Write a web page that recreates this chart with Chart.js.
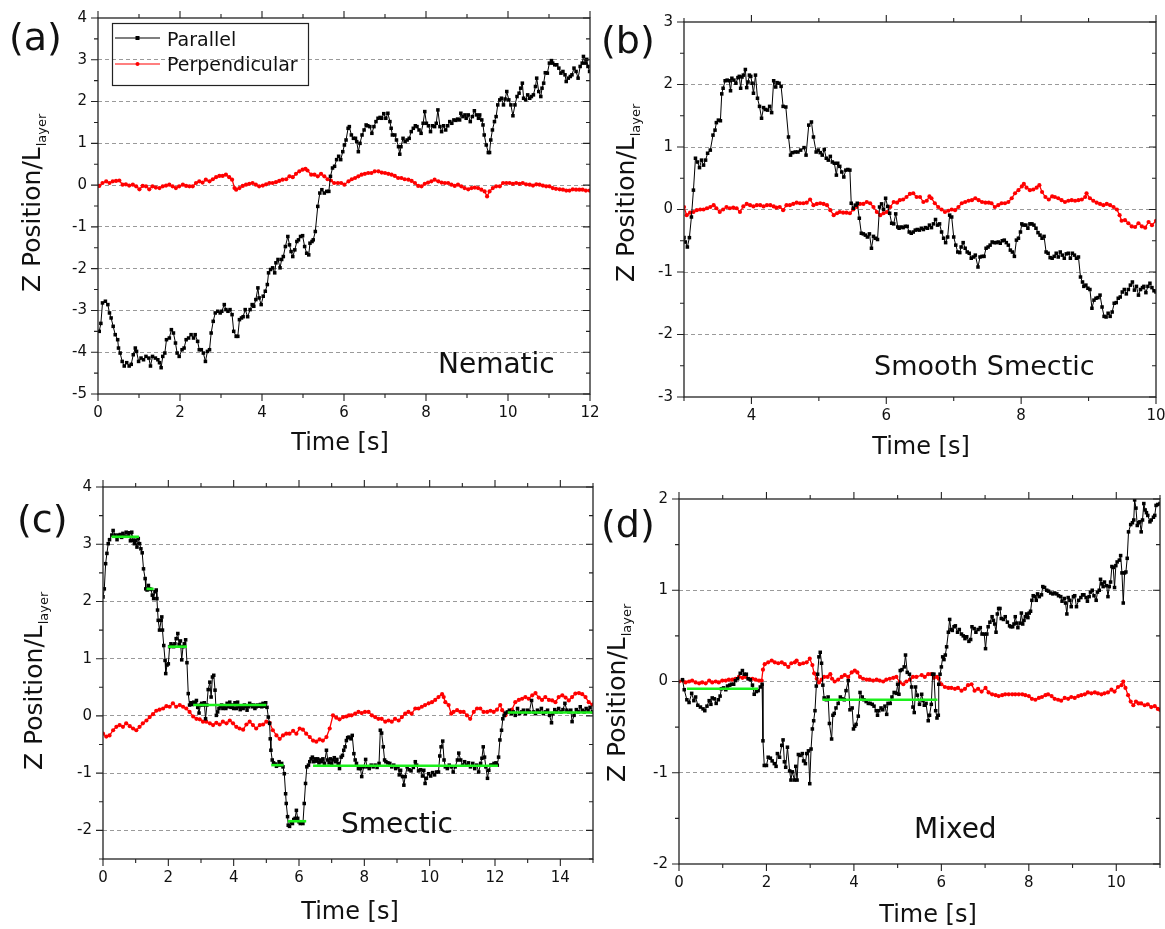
<!DOCTYPE html>
<html>
<head>
<meta charset="utf-8">
<title>Z position traces</title>
<script src="https://cdn.jsdelivr.net/npm/chart.js@4.4.1/dist/chart.umd.min.js"></script>
<style>
  html, body { margin: 0; padding: 0; background: #fff; }
  #wrap { position: relative; width: 1165px; height: 929px; overflow: hidden; }
  #wrap canvas { position: absolute; left: 0; top: 0; }
</style>
</head>
<body>
<div id="wrap">
  <canvas id="chartA" width="1165" height="929"></canvas>
  <canvas id="chartB" width="1165" height="929"></canvas>
  <canvas id="chartC" width="1165" height="929"></canvas>
  <canvas id="chartD" width="1165" height="929"></canvas>
</div>
<script>
// Z position / L_layer vs time, four phases. Values are [time s, z].
const TIME_TITLE = 'Time [s]';
const Z_TITLE = 'Z Position/L';
const Z_TITLE_SUB = 'layer';
const SERIES_NAMES = ['Parallel', 'Perpendicular'];

// (a) Nematic
const parallelA = [[0.03,-3.50],[0.07,-3.31],[0.11,-2.82],[0.18,-2.78],[0.24,-2.86],[0.28,-3.06],[0.32,-3.18],[0.37,-3.38],[0.42,-3.58],[0.48,-3.70],[0.50,-3.90],[0.54,-4.02],[0.59,-4.22],[0.64,-4.33],[0.70,-4.25],[0.76,-4.33],[0.81,-4.29],[0.86,-4.06],[0.91,-3.90],[0.94,-3.98],[0.99,-4.22],[1.05,-4.14],[1.11,-4.18],[1.17,-4.10],[1.24,-4.14],[1.28,-4.33],[1.33,-4.10],[1.40,-4.14],[1.46,-4.18],[1.50,-4.25],[1.54,-4.37],[1.58,-4.10],[1.63,-4.02],[1.67,-3.70],[1.74,-3.66],[1.79,-3.46],[1.84,-3.54],[1.89,-3.78],[1.93,-4.02],[1.98,-4.10],[2.05,-3.94],[2.10,-3.90],[2.15,-3.70],[2.21,-3.66],[2.27,-3.58],[2.33,-3.66],[2.37,-3.58],[2.43,-3.74],[2.47,-3.94],[2.52,-3.94],[2.57,-4.02],[2.62,-4.22],[2.67,-3.98],[2.72,-3.94],[2.76,-3.54],[2.81,-3.26],[2.86,-3.06],[2.92,-3.02],[2.98,-3.06],[3.02,-3.02],[3.08,-2.86],[3.12,-2.98],[3.17,-3.02],[3.22,-2.98],[3.27,-3.10],[3.31,-3.50],[3.37,-3.62],[3.41,-3.62],[3.45,-3.22],[3.50,-3.18],[3.54,-3.15],[3.59,-2.98],[3.65,-3.15],[3.71,-2.98],[3.76,-2.86],[3.80,-2.90],[3.85,-2.74],[3.90,-2.46],[3.93,-2.70],[3.98,-2.86],[4.03,-2.66],[4.08,-2.54],[4.13,-2.38],[4.16,-2.10],[4.21,-2.02],[4.26,-1.98],[4.31,-2.10],[4.34,-1.86],[4.39,-1.78],[4.44,-1.98],[4.48,-1.78],[4.52,-1.71],[4.57,-1.47],[4.63,-1.23],[4.67,-1.43],[4.71,-1.59],[4.75,-1.71],[4.80,-1.55],[4.85,-1.35],[4.89,-1.31],[4.94,-1.23],[4.99,-1.21],[5.04,-1.47],[5.09,-1.63],[5.14,-1.67],[5.17,-1.39],[5.22,-1.35],[5.25,-1.31],[5.30,-1.11],[5.36,-0.51],[5.41,-0.19],[5.46,-0.11],[5.52,-0.19],[5.58,-0.15],[5.63,-0.15],[5.67,0.21],[5.72,0.41],[5.77,0.45],[5.82,0.61],[5.87,0.69],[5.92,0.61],[5.97,0.80],[6.01,0.96],[6.05,1.08],[6.10,1.36],[6.13,1.40],[6.18,1.20],[6.23,1.12],[6.28,1.12],[6.31,1.04],[6.35,0.80],[6.39,1.00],[6.44,1.20],[6.49,1.32],[6.54,1.44],[6.58,1.42],[6.63,1.40],[6.68,1.24],[6.73,1.40],[6.78,1.52],[6.83,1.60],[6.88,1.62],[6.92,1.60],[6.97,1.71],[7.02,1.60],[7.07,1.72],[7.12,1.52],[7.15,1.36],[7.18,1.20],[7.24,1.20],[7.28,1.08],[7.33,0.92],[7.36,0.74],[7.39,0.92],[7.44,1.12],[7.49,1.04],[7.54,1.08],[7.59,1.12],[7.64,1.28],[7.69,1.36],[7.74,1.42],[7.78,1.40],[7.83,1.32],[7.88,1.24],[7.93,1.48],[7.97,1.76],[8.01,1.48],[8.06,1.42],[8.11,1.28],[8.16,1.42],[8.21,1.40],[8.25,1.48],[8.29,1.80],[8.34,1.40],[8.38,1.28],[8.43,1.42],[8.48,1.32],[8.53,1.42],[8.58,1.52],[8.63,1.48],[8.68,1.56],[8.73,1.55],[8.77,1.58],[8.82,1.56],[8.85,1.72],[8.90,1.64],[8.95,1.68],[8.98,1.60],[9.03,1.68],[9.08,1.52],[9.13,1.64],[9.18,1.78],[9.23,1.68],[9.28,1.60],[9.31,1.68],[9.36,1.56],[9.39,1.44],[9.42,1.20],[9.47,0.96],[9.52,0.78],[9.55,0.78],[9.58,1.08],[9.62,1.32],[9.67,1.52],[9.71,1.64],[9.75,1.92],[9.80,2.04],[9.84,2.08],[9.89,1.92],[9.93,2.06],[9.97,2.24],[10.02,2.04],[10.07,1.92],[10.12,1.66],[10.17,1.92],[10.22,2.12],[10.27,2.20],[10.31,2.32],[10.35,2.44],[10.38,2.08],[10.43,2.04],[10.48,2.16],[10.53,2.08],[10.57,2.12],[10.62,2.16],[10.67,2.36],[10.70,2.56],[10.75,2.24],[10.80,2.12],[10.83,2.32],[10.87,2.44],[10.91,2.69],[10.96,2.68],[11.01,2.92],[11.06,2.98],[11.09,2.92],[11.14,2.88],[11.19,2.88],[11.24,2.80],[11.29,2.68],[11.34,2.72],[11.39,2.64],[11.42,2.48],[11.47,2.56],[11.52,2.60],[11.56,2.64],[11.61,2.80],[11.66,2.72],[11.71,2.56],[11.76,2.84],[11.81,2.92],[11.84,3.08],[11.89,2.92],[11.92,3.01],[11.95,2.84],[11.99,2.72]];
const perpendicularA = [[0.03,-0.02],[0.11,0.05],[0.20,0.09],[0.28,0.05],[0.36,0.09],[0.44,0.10],[0.52,0.11],[0.60,0.01],[0.68,0.02],[0.76,-0.01],[0.85,0.01],[0.93,-0.03],[1.01,-0.10],[1.09,-0.02],[1.17,-0.03],[1.25,-0.10],[1.33,-0.03],[1.41,-0.06],[1.50,-0.07],[1.58,-0.03],[1.66,-0.01],[1.74,0.01],[1.82,-0.03],[1.90,-0.07],[1.98,-0.03],[2.07,0.01],[2.15,-0.02],[2.23,-0.03],[2.31,-0.03],[2.39,0.05],[2.47,0.09],[2.55,0.06],[2.63,0.13],[2.72,0.09],[2.80,0.14],[2.88,0.19],[2.96,0.22],[3.04,0.22],[3.12,0.25],[3.20,0.19],[3.27,0.13],[3.33,-0.07],[3.37,-0.11],[3.45,-0.07],[3.53,-0.02],[3.61,0.01],[3.69,0.03],[3.77,0.05],[3.85,0.01],[3.93,-0.03],[4.02,-0.01],[4.10,0.02],[4.18,0.05],[4.26,0.05],[4.34,0.07],[4.42,0.10],[4.50,0.13],[4.59,0.14],[4.67,0.21],[4.75,0.19],[4.83,0.27],[4.91,0.33],[4.99,0.37],[5.06,0.39],[5.11,0.35],[5.20,0.25],[5.28,0.25],[5.36,0.21],[5.44,0.27],[5.52,0.21],[5.60,0.14],[5.68,0.11],[5.76,0.05],[5.85,0.05],[5.93,0.05],[6.01,0.01],[6.11,0.09],[6.19,0.14],[6.27,0.17],[6.35,0.21],[6.43,0.25],[6.51,0.27],[6.59,0.29],[6.67,0.29],[6.75,0.33],[6.84,0.33],[6.92,0.30],[7.00,0.29],[7.08,0.27],[7.16,0.25],[7.24,0.22],[7.32,0.17],[7.40,0.17],[7.48,0.14],[7.57,0.13],[7.65,0.10],[7.73,0.05],[7.81,-0.02],[7.89,-0.03],[7.97,0.03],[8.05,0.06],[8.13,0.09],[8.21,0.13],[8.30,0.09],[8.38,0.06],[8.46,0.05],[8.54,0.05],[8.62,0.01],[8.70,-0.02],[8.78,0.01],[8.86,-0.03],[8.94,-0.07],[9.03,-0.10],[9.11,-0.07],[9.19,-0.06],[9.27,-0.07],[9.35,-0.11],[9.43,-0.15],[9.49,-0.27],[9.55,-0.15],[9.63,-0.07],[9.71,-0.03],[9.80,-0.03],[9.88,0.05],[9.96,0.05],[10.04,0.05],[10.12,0.03],[10.20,0.05],[10.28,0.03],[10.36,0.05],[10.44,0.02],[10.53,0.01],[10.61,-0.01],[10.69,0.02],[10.77,0.01],[10.85,-0.01],[10.93,-0.03],[11.01,-0.03],[11.09,-0.07],[11.17,-0.09],[11.26,-0.10],[11.34,-0.11],[11.42,-0.13],[11.50,-0.13],[11.58,-0.10],[11.66,-0.11],[11.74,-0.11],[11.82,-0.11],[11.90,-0.13],[11.99,-0.13]];

// (b) Smooth Smectic
const parallelB = [[3.00,-0.45],[3.02,-0.52],[3.05,-0.60],[3.08,-0.45],[3.11,-0.12],[3.14,0.31],[3.17,0.82],[3.20,0.76],[3.23,0.67],[3.26,0.79],[3.29,0.71],[3.32,0.79],[3.35,0.90],[3.39,0.95],[3.43,1.19],[3.46,1.27],[3.48,1.39],[3.51,1.43],[3.54,1.42],[3.56,1.85],[3.58,1.94],[3.61,2.06],[3.64,2.07],[3.67,2.06],[3.69,1.90],[3.71,2.10],[3.74,2.07],[3.77,2.02],[3.80,2.11],[3.82,2.13],[3.84,1.94],[3.86,2.12],[3.88,2.15],[3.91,2.24],[3.93,1.95],[3.95,2.04],[3.97,2.15],[3.99,2.13],[4.01,2.02],[4.03,1.86],[4.06,2.15],[4.09,1.78],[4.12,1.65],[4.15,1.46],[4.18,1.63],[4.21,1.60],[4.24,1.59],[4.27,1.65],[4.30,1.55],[4.33,2.06],[4.36,1.96],[4.38,2.03],[4.41,2.02],[4.44,1.97],[4.47,1.65],[4.51,1.64],[4.55,1.16],[4.58,0.87],[4.61,0.91],[4.65,0.92],[4.69,0.92],[4.73,0.95],[4.78,0.99],[4.81,0.87],[4.85,1.35],[4.89,1.40],[4.92,1.16],[4.96,0.92],[4.99,0.95],[5.02,0.91],[5.05,0.87],[5.08,0.96],[5.11,0.82],[5.14,0.79],[5.17,0.85],[5.20,0.76],[5.23,0.74],[5.26,0.55],[5.28,0.74],[5.31,0.69],[5.34,0.60],[5.37,0.52],[5.40,0.63],[5.43,0.64],[5.46,0.63],[5.48,0.10],[5.51,0.02],[5.54,0.07],[5.57,0.10],[5.60,-0.14],[5.63,-0.38],[5.66,-0.39],[5.69,-0.41],[5.72,-0.44],[5.75,-0.39],[5.78,-0.62],[5.81,-0.43],[5.84,-0.46],[5.87,-0.48],[5.90,0.04],[5.93,0.09],[5.96,0.00],[5.99,0.18],[6.02,0.05],[6.05,-0.06],[6.08,-0.22],[6.11,-0.23],[6.14,-0.07],[6.17,-0.28],[6.19,-0.30],[6.22,-0.28],[6.25,-0.29],[6.28,-0.27],[6.31,-0.27],[6.34,-0.36],[6.37,-0.38],[6.40,-0.36],[6.43,-0.33],[6.46,-0.32],[6.49,-0.33],[6.52,-0.30],[6.55,-0.32],[6.58,-0.29],[6.61,-0.30],[6.64,-0.25],[6.67,-0.29],[6.70,-0.23],[6.73,-0.16],[6.76,-0.25],[6.79,-0.23],[6.82,-0.36],[6.85,-0.46],[6.88,-0.53],[6.91,-0.44],[6.94,-0.09],[6.97,-0.12],[7.00,-0.44],[7.03,-0.57],[7.06,-0.68],[7.09,-0.69],[7.11,-0.60],[7.14,-0.53],[7.17,-0.62],[7.20,-0.68],[7.23,-0.70],[7.26,-0.78],[7.29,-0.76],[7.32,-0.73],[7.36,-0.92],[7.39,-0.76],[7.42,-0.75],[7.45,-0.75],[7.48,-0.62],[7.51,-0.60],[7.54,-0.57],[7.57,-0.52],[7.60,-0.53],[7.63,-0.53],[7.66,-0.52],[7.69,-0.54],[7.72,-0.50],[7.75,-0.49],[7.78,-0.53],[7.81,-0.57],[7.84,-0.65],[7.87,-0.68],[7.90,-0.75],[7.93,-0.49],[7.96,-0.46],[7.99,-0.36],[8.01,-0.23],[8.04,-0.25],[8.07,-0.25],[8.10,-0.30],[8.13,-0.23],[8.16,-0.23],[8.19,-0.25],[8.22,-0.30],[8.25,-0.37],[8.28,-0.41],[8.31,-0.46],[8.34,-0.43],[8.37,-0.68],[8.40,-0.70],[8.43,-0.77],[8.46,-0.78],[8.49,-0.75],[8.52,-0.70],[8.55,-0.76],[8.58,-0.68],[8.61,-0.73],[8.64,-0.78],[8.67,-0.71],[8.70,-0.70],[8.73,-0.78],[8.76,-0.70],[8.79,-0.73],[8.82,-0.78],[8.85,-0.76],[8.88,-1.08],[8.91,-1.16],[8.93,-1.23],[8.96,-1.21],[8.99,-1.26],[9.02,-1.28],[9.05,-1.58],[9.08,-1.45],[9.11,-1.42],[9.14,-1.41],[9.17,-1.37],[9.20,-1.56],[9.23,-1.71],[9.26,-1.72],[9.29,-1.66],[9.32,-1.71],[9.35,-1.64],[9.38,-1.50],[9.41,-1.49],[9.44,-1.42],[9.47,-1.40],[9.50,-1.32],[9.53,-1.28],[9.56,-1.35],[9.59,-1.28],[9.62,-1.21],[9.65,-1.16],[9.68,-1.29],[9.71,-1.23],[9.74,-1.37],[9.77,-1.28],[9.80,-1.25],[9.82,-1.23],[9.85,-1.33],[9.88,-1.23],[9.91,-1.18],[9.94,-1.25],[9.97,-1.30],[10.00,-1.32]];
const perpendicularB = [[3.00,0.04],[3.04,-0.09],[3.09,-0.05],[3.14,-0.04],[3.19,-0.01],[3.24,0.00],[3.29,0.00],[3.34,0.02],[3.39,0.04],[3.44,0.07],[3.48,0.02],[3.53,-0.04],[3.58,0.00],[3.63,0.04],[3.68,0.02],[3.73,0.03],[3.78,0.02],[3.83,-0.04],[3.88,0.05],[3.93,0.09],[3.98,0.07],[4.03,0.05],[4.08,0.07],[4.13,0.07],[4.18,0.05],[4.23,0.07],[4.28,0.07],[4.33,0.05],[4.37,0.03],[4.42,0.04],[4.47,-0.01],[4.52,0.07],[4.57,0.07],[4.62,0.09],[4.67,0.11],[4.72,0.10],[4.77,0.10],[4.82,0.11],[4.87,0.16],[4.92,0.07],[4.97,0.09],[5.02,0.10],[5.07,0.09],[5.12,0.07],[5.17,-0.01],[5.22,-0.09],[5.27,-0.06],[5.31,-0.04],[5.36,-0.05],[5.41,-0.05],[5.46,-0.06],[5.51,0.00],[5.56,0.04],[5.61,0.09],[5.66,0.09],[5.71,0.12],[5.76,0.10],[5.81,0.04],[5.86,-0.04],[5.91,-0.09],[5.96,-0.06],[6.01,-0.04],[6.06,0.04],[6.11,0.12],[6.16,0.11],[6.20,0.15],[6.25,0.16],[6.30,0.20],[6.35,0.25],[6.40,0.26],[6.45,0.20],[6.50,0.20],[6.55,0.12],[6.60,0.14],[6.64,0.21],[6.67,0.18],[6.72,0.10],[6.77,0.04],[6.82,0.00],[6.87,-0.04],[6.92,-0.02],[6.97,0.00],[7.02,-0.01],[7.07,0.04],[7.12,0.10],[7.17,0.12],[7.22,0.14],[7.27,0.15],[7.32,0.18],[7.37,0.15],[7.42,0.12],[7.47,0.11],[7.52,0.11],[7.56,0.10],[7.61,0.04],[7.66,0.07],[7.71,0.10],[7.76,0.10],[7.81,0.12],[7.86,0.18],[7.91,0.26],[7.96,0.31],[8.01,0.37],[8.04,0.41],[8.08,0.35],[8.13,0.31],[8.18,0.32],[8.23,0.35],[8.27,0.39],[8.31,0.28],[8.36,0.20],[8.41,0.16],[8.46,0.21],[8.50,0.20],[8.55,0.18],[8.60,0.15],[8.65,0.12],[8.70,0.14],[8.75,0.15],[8.80,0.14],[8.85,0.15],[8.90,0.16],[8.95,0.20],[8.97,0.26],[9.02,0.18],[9.07,0.14],[9.12,0.11],[9.17,0.09],[9.22,0.07],[9.27,0.09],[9.32,0.07],[9.37,0.04],[9.42,0.00],[9.46,-0.09],[9.49,-0.18],[9.54,-0.17],[9.59,-0.22],[9.64,-0.27],[9.69,-0.28],[9.74,-0.22],[9.79,-0.27],[9.84,-0.29],[9.89,-0.20],[9.94,-0.25],[10.00,-0.18]];

// (c) Smectic
const parallelC = [[0.00,2.08],[0.04,2.22],[0.08,2.66],[0.12,2.84],[0.16,3.01],[0.20,3.08],[0.27,3.16],[0.31,3.24],[0.37,3.16],[0.43,3.08],[0.47,3.16],[0.53,3.17],[0.57,3.12],[0.61,3.19],[0.65,3.14],[0.71,3.21],[0.76,3.14],[0.80,3.20],[0.84,3.06],[0.88,3.21],[0.92,3.07],[0.96,3.01],[1.00,3.07],[1.04,2.95],[1.08,3.10],[1.12,3.01],[1.16,2.92],[1.20,2.85],[1.24,2.57],[1.29,2.40],[1.31,2.22],[1.35,2.20],[1.39,2.28],[1.43,2.22],[1.47,2.21],[1.51,2.11],[1.55,2.05],[1.59,2.17],[1.63,2.20],[1.65,2.05],[1.67,1.85],[1.69,1.67],[1.73,1.50],[1.78,1.67],[1.80,1.73],[1.82,1.50],[1.86,1.23],[1.90,0.97],[1.92,0.74],[1.96,0.89],[2.00,0.91],[2.04,1.21],[2.08,1.26],[2.12,1.23],[2.16,1.21],[2.20,1.26],[2.24,1.35],[2.29,1.44],[2.33,1.25],[2.37,1.31],[2.41,0.98],[2.45,1.21],[2.49,1.26],[2.53,1.33],[2.57,0.93],[2.61,0.39],[2.65,0.19],[2.69,0.23],[2.73,0.20],[2.78,0.24],[2.82,0.22],[2.86,0.27],[2.90,0.15],[2.94,0.05],[2.98,0.19],[3.02,0.22],[3.06,0.19],[3.10,0.23],[3.14,-0.05],[3.18,0.19],[3.22,0.46],[3.27,0.59],[3.31,0.33],[3.35,0.68],[3.39,0.71],[3.43,0.45],[3.47,0.01],[3.51,0.07],[3.55,0.13],[3.59,0.16],[3.63,0.19],[3.67,0.13],[3.71,0.17],[3.76,0.13],[3.80,0.22],[3.84,0.16],[3.88,0.24],[3.92,0.15],[3.96,0.19],[4.00,0.13],[4.04,0.23],[4.08,0.13],[4.12,0.24],[4.16,0.16],[4.20,0.11],[4.24,0.17],[4.29,0.13],[4.33,0.19],[4.37,0.16],[4.41,0.10],[4.45,0.16],[4.49,0.22],[4.53,0.19],[4.57,0.16],[4.61,0.19],[4.65,0.13],[4.69,0.16],[4.73,0.19],[4.78,0.17],[4.82,0.20],[4.86,0.16],[4.90,0.22],[4.94,0.17],[4.98,0.23],[5.02,0.15],[5.06,-0.02],[5.10,-0.13],[5.12,-0.40],[5.14,-0.60],[5.18,-0.77],[5.22,-0.82],[5.27,-0.84],[5.31,-0.88],[5.35,-0.86],[5.39,-0.80],[5.43,-0.86],[5.47,-0.83],[5.51,-0.89],[5.55,-1.01],[5.59,-1.36],[5.61,-1.53],[5.65,-1.76],[5.67,-1.91],[5.71,-1.93],[5.76,-1.85],[5.80,-1.88],[5.84,-1.81],[5.88,-1.79],[5.92,-1.65],[5.96,-1.79],[6.00,-1.85],[6.04,-1.88],[6.08,-1.85],[6.12,-1.88],[6.16,-1.53],[6.20,-1.18],[6.24,-0.89],[6.29,-0.86],[6.33,-0.80],[6.37,-0.75],[6.41,-0.72],[6.45,-0.80],[6.49,-0.75],[6.53,-0.79],[6.57,-0.75],[6.61,-0.82],[6.65,-0.77],[6.69,-0.80],[6.73,-0.75],[6.78,-0.83],[6.84,-0.60],[6.88,-0.77],[6.92,-0.82],[6.96,-0.75],[7.00,-0.83],[7.04,-0.77],[7.08,-0.73],[7.12,-0.80],[7.16,-0.76],[7.20,-0.83],[7.24,-0.92],[7.29,-0.72],[7.33,-0.69],[7.37,-0.60],[7.41,-0.54],[7.45,-0.43],[7.49,-0.38],[7.53,-0.37],[7.59,-0.40],[7.63,-0.34],[7.68,-0.66],[7.72,-0.77],[7.76,-0.83],[7.82,-0.92],[7.88,-0.92],[7.92,-1.06],[7.98,-0.89],[8.04,-0.76],[8.08,-0.89],[8.15,-0.92],[8.21,-0.86],[8.27,-0.89],[8.33,-0.86],[8.39,-0.90],[8.45,-0.83],[8.49,-0.25],[8.53,-0.30],[8.58,-0.54],[8.62,-0.77],[8.66,-0.80],[8.72,-0.82],[8.78,-0.83],[8.84,-0.89],[8.90,-0.86],[8.96,-0.92],[9.03,-0.89],[9.07,-1.03],[9.11,-0.95],[9.17,-1.06],[9.21,-1.21],[9.25,-1.06],[9.31,-0.89],[9.37,-0.94],[9.43,-0.96],[9.50,-0.90],[9.56,-0.80],[9.60,-0.86],[9.66,-0.96],[9.72,-0.94],[9.78,-1.05],[9.82,-0.95],[9.86,-1.18],[9.90,-1.09],[9.97,-1.01],[10.03,-1.05],[10.09,-0.99],[10.15,-1.03],[10.21,-0.98],[10.27,-0.98],[10.31,-0.70],[10.35,-0.54],[10.40,-0.44],[10.44,-0.77],[10.48,-0.89],[10.54,-0.92],[10.60,-0.86],[10.66,-0.89],[10.72,-0.98],[10.78,-0.89],[10.85,-0.77],[10.89,-0.65],[10.95,-0.77],[11.01,-0.86],[11.07,-0.80],[11.13,-0.86],[11.19,-0.82],[11.25,-0.89],[11.32,-0.83],[11.38,-0.92],[11.44,-0.86],[11.50,-0.98],[11.56,-0.83],[11.60,-0.74],[11.64,-0.54],[11.68,-0.72],[11.72,-0.89],[11.77,-1.09],[11.81,-0.95],[11.87,-0.86],[11.91,-0.86],[11.97,-0.83],[12.03,-0.82],[12.07,-0.86],[12.11,-0.72],[12.15,-0.42],[12.20,-0.25],[12.24,-0.05],[12.28,0.01],[12.32,0.05],[12.38,0.07],[12.44,0.10],[12.50,0.04],[12.56,0.07],[12.62,0.01],[12.69,0.13],[12.75,0.04],[12.81,0.07],[12.87,0.10],[12.93,0.04],[12.99,0.10],[13.05,0.07],[13.12,0.27],[13.18,0.07],[13.24,0.04],[13.30,0.10],[13.36,0.07],[13.42,0.13],[13.48,0.04],[13.54,0.07],[13.61,0.10],[13.67,0.01],[13.73,-0.12],[13.77,0.04],[13.83,0.11],[13.89,0.07],[13.95,0.13],[14.02,0.07],[14.08,0.11],[14.14,0.22],[14.20,0.10],[14.26,0.07],[14.32,0.10],[14.36,-0.10],[14.42,0.01],[14.49,0.11],[14.55,0.07],[14.61,0.16],[14.67,0.10],[14.73,0.07],[14.79,0.13],[14.85,0.09],[14.91,0.15],[14.98,0.07]];
const perpendicularC = [[0.00,-0.31],[0.10,-0.36],[0.20,-0.34],[0.31,-0.25],[0.41,-0.19],[0.51,-0.16],[0.61,-0.19],[0.71,-0.13],[0.82,-0.18],[0.92,-0.22],[1.02,-0.25],[1.12,-0.19],[1.22,-0.13],[1.33,-0.08],[1.43,-0.02],[1.53,0.03],[1.63,0.09],[1.73,0.11],[1.84,0.13],[1.94,0.17],[2.04,0.16],[2.14,0.22],[2.24,0.16],[2.35,0.19],[2.45,0.16],[2.55,0.13],[2.65,0.07],[2.76,-0.01],[2.86,-0.05],[2.96,-0.06],[3.06,-0.10],[3.16,-0.10],[3.27,-0.13],[3.37,-0.16],[3.47,-0.12],[3.57,-0.15],[3.67,-0.10],[3.78,-0.13],[3.88,-0.08],[3.98,-0.13],[4.08,-0.19],[4.18,-0.22],[4.29,-0.24],[4.39,-0.15],[4.49,-0.10],[4.59,-0.16],[4.69,-0.22],[4.80,-0.16],[4.90,-0.15],[5.00,-0.10],[5.10,-0.12],[5.20,-0.25],[5.31,-0.34],[5.41,-0.40],[5.51,-0.34],[5.61,-0.31],[5.71,-0.31],[5.82,-0.26],[5.92,-0.31],[6.02,-0.22],[6.12,-0.24],[6.22,-0.31],[6.33,-0.37],[6.43,-0.43],[6.53,-0.45],[6.63,-0.41],[6.73,-0.43],[6.84,-0.37],[6.94,-0.22],[7.04,0.01],[7.14,-0.03],[7.24,-0.06],[7.35,-0.02],[7.45,-0.01],[7.53,0.01],[7.61,0.01],[7.72,0.04],[7.82,0.07],[7.92,0.05],[8.02,0.07],[8.13,0.07],[8.23,0.01],[8.33,-0.02],[8.43,-0.05],[8.53,-0.05],[8.64,-0.10],[8.74,-0.08],[8.84,-0.10],[8.94,-0.05],[9.05,-0.08],[9.15,-0.02],[9.25,0.04],[9.35,0.07],[9.45,0.04],[9.56,0.13],[9.66,0.13],[9.76,0.16],[9.86,0.19],[9.97,0.22],[10.07,0.24],[10.17,0.28],[10.27,0.33],[10.38,0.38],[10.43,0.33],[10.48,0.24],[10.58,0.19],[10.66,0.04],[10.73,0.07],[10.84,0.10],[10.94,0.07],[11.04,0.07],[11.14,0.01],[11.24,-0.05],[11.35,0.07],[11.45,0.13],[11.55,0.13],[11.65,0.07],[11.76,0.07],[11.86,0.09],[11.96,0.07],[12.06,0.11],[12.16,0.19],[12.22,0.10],[12.32,0.01],[12.42,0.07],[12.52,0.11],[12.62,0.24],[12.73,0.28],[12.83,0.30],[12.93,0.33],[13.03,0.30],[13.14,0.36],[13.24,0.40],[13.34,0.32],[13.44,0.28],[13.54,0.33],[13.65,0.28],[13.75,0.27],[13.85,0.24],[13.95,0.33],[14.06,0.36],[14.16,0.32],[14.26,0.27],[14.36,0.33],[14.46,0.39],[14.57,0.40],[14.67,0.38],[14.77,0.33],[14.87,0.24],[14.98,0.20]];
// plateau fits: [start s, end s, z]
const smecticLevels = [[0.26,1.10,3.13],[1.33,1.55,2.22],[1.99,2.57,1.21],[2.76,5.00,0.19],[5.15,5.53,-0.86],[5.66,6.22,-1.84],[6.43,12.09,-0.87],[12.39,14.99,0.06]];

// (d) Mixed
const parallelD = [[0.08,0.02],[0.12,-0.09],[0.18,-0.20],[0.23,-0.23],[0.29,-0.13],[0.34,-0.21],[0.38,-0.17],[0.43,-0.26],[0.49,-0.28],[0.55,-0.30],[0.59,-0.32],[0.64,-0.27],[0.69,-0.21],[0.73,-0.25],[0.76,-0.18],[0.81,-0.19],[0.85,-0.24],[0.90,-0.20],[0.94,-0.16],[0.97,-0.08],[1.02,-0.07],[1.07,-0.09],[1.11,-0.05],[1.16,-0.04],[1.20,-0.03],[1.25,-0.03],[1.29,0.01],[1.34,0.03],[1.40,0.09],[1.45,0.12],[1.49,0.08],[1.54,0.08],[1.58,0.03],[1.63,0.02],[1.68,-0.04],[1.72,-0.14],[1.77,-0.11],[1.81,-0.10],[1.86,-0.06],[1.90,-0.03],[1.92,-0.65],[1.95,-0.92],[2.00,-0.92],[2.04,-0.83],[2.09,-0.84],[2.13,-0.87],[2.18,-0.90],[2.22,-0.93],[2.25,-0.79],[2.30,-0.83],[2.35,-0.70],[2.38,-0.64],[2.41,-0.88],[2.44,-0.94],[2.48,-0.72],[2.53,-0.98],[2.56,-1.08],[2.59,-0.99],[2.64,-1.08],[2.67,-0.93],[2.70,-1.08],[2.73,-0.80],[2.77,-0.81],[2.82,-0.79],[2.85,-0.87],[2.89,-0.90],[2.92,-0.79],[2.96,-0.76],[2.99,-1.12],[3.02,-0.74],[3.05,-0.52],[3.08,-0.43],[3.11,-0.32],[3.14,-0.05],[3.17,0.08],[3.20,0.27],[3.23,0.32],[3.26,0.20],[3.29,-0.04],[3.32,-0.18],[3.37,-0.20],[3.41,-0.17],[3.44,-0.46],[3.49,-0.63],[3.52,-0.37],[3.55,-0.35],[3.59,-0.29],[3.64,-0.24],[3.69,-0.17],[3.73,-0.19],[3.78,-0.20],[3.82,-0.10],[3.87,0.01],[3.91,-0.31],[3.96,-0.29],[3.99,-0.52],[4.02,-0.49],[4.05,-0.47],[4.10,-0.38],[4.14,-0.12],[4.19,-0.17],[4.23,-0.20],[4.28,-0.22],[4.33,-0.24],[4.37,-0.24],[4.42,-0.25],[4.46,-0.27],[4.51,-0.32],[4.54,-0.37],[4.57,-0.32],[4.62,-0.29],[4.66,-0.31],[4.71,-0.27],[4.75,-0.36],[4.78,-0.24],[4.83,-0.24],[4.87,-0.17],[4.92,-0.12],[4.97,-0.13],[5.00,-0.03],[5.03,-0.14],[5.06,0.12],[5.10,0.13],[5.15,0.16],[5.18,0.29],[5.22,0.10],[5.27,0.08],[5.32,-0.06],[5.35,-0.28],[5.38,-0.34],[5.41,-0.06],[5.45,-0.15],[5.50,-0.25],[5.55,-0.14],[5.58,-0.21],[5.61,-0.26],[5.65,-0.24],[5.70,-0.43],[5.73,-0.37],[5.77,-0.25],[5.80,0.08],[5.83,0.08],[5.87,-0.32],[5.90,-0.40],[5.93,-0.37],[5.94,-0.03],[5.97,0.08],[6.00,0.16],[6.03,0.27],[6.06,0.24],[6.09,0.29],[6.12,0.38],[6.16,0.54],[6.19,0.68],[6.22,0.57],[6.25,0.56],[6.29,0.60],[6.32,0.61],[6.37,0.54],[6.41,0.57],[6.46,0.52],[6.50,0.50],[6.54,0.47],[6.58,0.49],[6.63,0.44],[6.67,0.46],[6.70,0.60],[6.75,0.58],[6.79,0.54],[6.84,0.57],[6.89,0.59],[6.93,0.52],[6.98,0.52],[7.01,0.36],[7.04,0.52],[7.07,0.60],[7.11,0.65],[7.16,0.71],[7.19,0.67],[7.22,0.63],[7.25,0.54],[7.28,0.74],[7.31,0.80],[7.34,0.80],[7.37,0.69],[7.42,0.68],[7.46,0.71],[7.51,0.65],[7.56,0.61],[7.59,0.60],[7.63,0.60],[7.66,0.63],[7.69,0.71],[7.72,0.64],[7.75,0.59],[7.80,0.64],[7.83,0.75],[7.86,0.63],[7.89,0.67],[7.92,0.71],[7.95,0.74],[7.98,0.70],[8.01,0.75],[8.04,0.77],[8.07,0.89],[8.10,0.94],[8.14,0.93],[8.17,0.89],[8.20,0.96],[8.24,0.93],[8.29,0.95],[8.32,1.04],[8.36,1.03],[8.41,1.00],[8.45,0.99],[8.50,0.97],[8.55,0.96],[8.59,0.97],[8.64,0.96],[8.68,0.94],[8.73,0.93],[8.76,0.88],[8.81,0.91],[8.84,0.86],[8.87,0.74],[8.90,0.92],[8.94,0.89],[8.97,0.82],[9.02,0.93],[9.05,0.94],[9.09,0.82],[9.14,0.89],[9.19,0.92],[9.23,0.95],[9.26,0.95],[9.31,0.92],[9.34,0.88],[9.38,0.93],[9.41,0.98],[9.45,1.00],[9.49,0.94],[9.54,0.89],[9.57,0.98],[9.61,1.00],[9.64,1.12],[9.67,1.07],[9.70,1.04],[9.73,1.09],[9.78,1.05],[9.81,0.93],[9.84,1.04],[9.87,1.09],[9.90,1.26],[9.93,1.25],[9.96,1.03],[9.99,1.27],[10.02,1.31],[10.07,1.33],[10.10,1.38],[10.13,1.19],[10.16,0.86],[10.19,1.19],[10.22,1.20],[10.25,1.35],[10.28,1.64],[10.33,1.72],[10.37,1.74],[10.40,1.77],[10.42,1.99],[10.45,1.90],[10.48,1.71],[10.51,1.74],[10.54,1.75],[10.57,1.64],[10.60,1.77],[10.63,1.95],[10.66,1.88],[10.69,1.85],[10.72,1.82],[10.77,1.75],[10.80,1.77],[10.85,1.80],[10.88,1.82],[10.91,1.93],[10.95,1.94],[11.00,1.95]];
const perpendicularD = [[0.00,0.00],[0.08,0.01],[0.15,-0.01],[0.23,0.00],[0.30,0.01],[0.38,-0.01],[0.46,-0.02],[0.53,-0.01],[0.61,-0.02],[0.69,0.01],[0.76,-0.01],[0.84,0.00],[0.91,-0.01],[0.99,0.01],[1.07,0.01],[1.14,0.02],[1.22,0.02],[1.29,0.03],[1.37,0.05],[1.45,0.04],[1.52,0.05],[1.60,0.03],[1.68,0.03],[1.75,0.02],[1.83,0.01],[1.89,0.01],[1.92,0.13],[1.96,0.19],[2.04,0.21],[2.12,0.23],[2.19,0.21],[2.27,0.20],[2.35,0.21],[2.42,0.19],[2.50,0.16],[2.57,0.20],[2.65,0.21],[2.69,0.23],[2.76,0.19],[2.84,0.20],[2.92,0.21],[2.99,0.25],[3.05,0.18],[3.09,0.09],[3.15,0.03],[3.20,-0.01],[3.26,0.02],[3.32,0.05],[3.40,0.05],[3.46,0.08],[3.50,0.03],[3.56,0.00],[3.64,0.02],[3.72,0.05],[3.79,0.07],[3.87,0.05],[3.95,0.10],[4.02,0.12],[4.08,0.10],[4.14,0.05],[4.21,0.03],[4.29,0.02],[4.36,0.02],[4.44,0.01],[4.52,0.02],[4.59,0.01],[4.67,0.00],[4.74,0.02],[4.82,0.03],[4.90,0.04],[4.97,0.05],[5.05,-0.01],[5.13,-0.03],[5.20,0.00],[5.28,0.02],[5.35,0.05],[5.43,0.05],[5.55,0.07],[5.62,0.05],[5.70,0.08],[5.77,0.08],[5.83,0.04],[5.90,0.05],[5.94,0.03],[6.00,-0.03],[6.08,-0.06],[6.16,-0.07],[6.23,-0.07],[6.31,-0.08],[6.38,-0.07],[6.46,-0.10],[6.54,-0.08],[6.61,-0.04],[6.69,-0.03],[6.76,-0.10],[6.84,-0.08],[6.92,-0.11],[7.01,-0.07],[7.08,-0.12],[7.16,-0.14],[7.24,-0.15],[7.31,-0.16],[7.39,-0.15],[7.46,-0.14],[7.54,-0.14],[7.62,-0.14],[7.69,-0.14],[7.77,-0.14],[7.85,-0.14],[7.92,-0.15],[8.00,-0.16],[8.07,-0.19],[8.15,-0.20],[8.23,-0.18],[8.30,-0.17],[8.38,-0.15],[8.44,-0.14],[8.52,-0.16],[8.59,-0.19],[8.67,-0.20],[8.74,-0.21],[8.82,-0.18],[8.90,-0.19],[8.97,-0.17],[9.05,-0.18],[9.13,-0.16],[9.20,-0.15],[9.28,-0.14],[9.35,-0.12],[9.43,-0.13],[9.51,-0.12],[9.58,-0.13],[9.66,-0.14],[9.73,-0.13],[9.81,-0.12],[9.89,-0.09],[9.96,-0.11],[10.04,-0.06],[10.12,-0.04],[10.16,0.00],[10.21,-0.07],[10.27,-0.15],[10.33,-0.22],[10.39,-0.26],[10.45,-0.22],[10.51,-0.24],[10.57,-0.24],[10.65,-0.26],[10.72,-0.25],[10.80,-0.28],[10.88,-0.27],[10.95,-0.30],[11.00,-0.31]];
const mixedLevels = [[0.18,1.81,-0.08],[3.28,5.91,-0.20]];

// axis limits [min, max]
const timeRanges = { a: [0, 12], b: [3, 10], c: [0, 15], d: [0, 11] };
const zRanges = { a: [-5, 4], b: [-3, 3], c: [-2.5, 4], d: [-2, 2] };

const FONT = '"DejaVu Sans", "Liberation Sans", Arial, sans-serif';
const PAGE_W = 1165, PAGE_H = 929;

// where each plot sits on the page (chart area: left, top, right, bottom) and its labels
const PANELS = [
  { canvas: 'chartA', key: 'a', area: [98, 18, 590, 394], parallel: parallelA, perpendicular: perpendicularA, levels: [],
    tag: '(a)', tagAt: [9, 50], yTitleAt: [40, 292], xTitleAt: [340, 450],
    note: 'Nematic', noteAt: [438, 373], noteSize: 28, legend: true },
  { canvas: 'chartB', key: 'b', area: [684, 22, 1156, 397], parallel: parallelB, perpendicular: perpendicularB, levels: [],
    tag: '(b)', tagAt: [601, 53], yTitleAt: [634, 282], xTitleAt: [921, 454],
    note: 'Smooth Smectic', noteAt: [874, 375], noteSize: 27 },
  { canvas: 'chartC', key: 'c', area: [103, 487, 593, 859], parallel: parallelC, perpendicular: perpendicularC, levels: smecticLevels,
    tag: '(c)', tagAt: [17, 532], yTitleAt: [42, 770], xTitleAt: [350, 919],
    note: 'Smectic', noteAt: [341, 833], noteSize: 28 },
  { canvas: 'chartD', key: 'd', area: [679, 499, 1160, 864], parallel: parallelD, perpendicular: perpendicularD, levels: mixedLevels,
    tag: '(d)', tagAt: [601, 537], yTitleAt: [625, 782], xTitleAt: [928, 922],
    note: 'Mixed', noteAt: [914, 838], noteSize: 28 },
];

// frame with ticks on all four sides, plus the panel texts and the legend
const decorPlugin = {
  id: 'decor',
  afterDatasetsDraw(chart, args, o) {
    const { ctx, chartArea: a } = chart;
    const x = chart.scales.x, y = chart.scales.y;
    ctx.save();
    ctx.strokeStyle = '#222';
    ctx.lineWidth = 1.3;
    ctx.strokeRect(a.left, a.top, a.right - a.left, a.bottom - a.top);
    ctx.lineWidth = 1.1;
    ctx.beginPath();
    for (let v = Math.ceil(o.xRange[0]); v <= o.xRange[1]; v++) {
      const px = x.getPixelForValue(v);
      const len = v % 2 === 0 ? 7 : 4;
      ctx.moveTo(px, a.bottom); ctx.lineTo(px, a.bottom + len);
      ctx.moveTo(px, a.top); ctx.lineTo(px, a.top - len);
    }
    for (let k = Math.ceil(o.yRange[0] * 2); k <= o.yRange[1] * 2; k++) {
      const py = y.getPixelForValue(k / 2);
      const len = k % 2 === 0 ? 7 : 4;
      ctx.moveTo(a.left, py); ctx.lineTo(a.left - len, py);
      ctx.moveTo(a.right, py); ctx.lineTo(a.right - len, py);
    }
    ctx.stroke();
    ctx.restore();
  },
  afterDraw(chart, args, o) {
    const ctx = chart.ctx;
    ctx.save();
    ctx.fillStyle = '#111';
    ctx.textBaseline = 'alphabetic';

    ctx.textAlign = 'left';
    ctx.font = '38px ' + FONT;
    ctx.fillText(o.tag, o.tagAt[0], o.tagAt[1]);

    ctx.font = o.noteSize + 'px ' + FONT;
    ctx.fillText(o.note, o.noteAt[0], o.noteAt[1]);

    ctx.textAlign = 'center';
    ctx.font = '24px ' + FONT;
    ctx.fillText(TIME_TITLE, o.xTitleAt[0], o.xTitleAt[1]);

    // rotated y title with subscript
    ctx.save();
    ctx.translate(o.yTitleAt[0], o.yTitleAt[1]);
    ctx.rotate(-Math.PI / 2);
    ctx.textAlign = 'left';
    ctx.font = '25px ' + FONT;
    ctx.fillText(Z_TITLE, 0, 0);
    const w = ctx.measureText(Z_TITLE).width;
    ctx.font = '13px ' + FONT;
    ctx.fillText(Z_TITLE_SUB, w + 1, 6);
    ctx.restore();

    if (o.legend) {
      ctx.textAlign = 'left';
      ctx.strokeStyle = '#222';
      ctx.lineWidth = 1.2;
      ctx.strokeRect(112.5, 23.5, 196, 62);
      ctx.lineWidth = 1.6;
      ctx.strokeStyle = '#555';
      ctx.beginPath(); ctx.moveTo(115, 38); ctx.lineTo(160, 38); ctx.stroke();
      ctx.fillStyle = '#000';
      ctx.fillRect(135.5, 36, 4, 4);
      ctx.lineWidth = 1.2;
      ctx.strokeStyle = '#ff0000';
      ctx.beginPath(); ctx.moveTo(115, 64); ctx.lineTo(160, 64); ctx.stroke();
      ctx.fillStyle = '#ff0000';
      ctx.beginPath(); ctx.arc(137.5, 64, 2, 0, Math.PI * 2); ctx.fill();
      ctx.fillStyle = '#111';
      ctx.font = '19px ' + FONT;
      ctx.fillText(SERIES_NAMES[0], 167, 46);
      ctx.fillText(SERIES_NAMES[1], 167, 71);
    }
    ctx.restore();
  }
};

function buildPanel(p) {
  const [L, T, R, B] = p.area;
  const xRange = timeRanges[p.key], yRange = zRanges[p.key];
  const yAxisW = 60, xAxisH = 40;
  const tickFont = { family: FONT, size: 15 };

  const datasets = [
    { label: SERIES_NAMES[1], data: p.perpendicular, order: 3,
      borderColor: '#ff0000', borderWidth: 1.3, pointStyle: 'circle', pointRadius: 2.1,
      pointBackgroundColor: '#ff0000', pointBorderWidth: 0, tension: 0 },
    { label: SERIES_NAMES[0], data: p.parallel, order: 2,
      borderColor: '#000', borderWidth: 1, pointStyle: 'rect', pointRadius: 2.5,
      pointBackgroundColor: '#000', pointBorderWidth: 0, tension: 0 },
  ];
  p.levels.forEach(([t0, t1, z]) => {
    datasets.push({ label: 'level', data: [[t0, z], [t1, z]], order: 1,
      borderColor: '#1cf01c', borderWidth: 2.6, pointRadius: 0, tension: 0 });
  });

  const edgeOrMinor = v => v <= yRange[0] + 1e-9 || v >= yRange[1] - 1e-9 || !Number.isInteger(v);

  new Chart(document.getElementById(p.canvas), {
    type: 'line',
    data: { datasets },
    options: {
      responsive: false,
      animation: false,
      devicePixelRatio: 1,
      events: [],
      layout: {
        autoPadding: false,
        padding: { left: L - yAxisW, top: T, right: PAGE_W - R, bottom: PAGE_H - B - xAxisH }
      },
      plugins: {
        legend: { display: false },
        tooltip: { enabled: false },
        decor: Object.assign({}, p, { xRange, yRange })
      },
      scales: {
        x: {
          type: 'linear', min: xRange[0], max: xRange[1],
          afterFit: s => { s.height = xAxisH; s.paddingLeft = 0; s.paddingRight = 0; },
          ticks: { stepSize: 1, autoSkip: false, maxRotation: 0, padding: 10, font: tickFont, color: '#111',
                   callback: v => (Number.isInteger(v) && v % 2 === 0) ? String(v) : '' },
          grid: { drawOnChartArea: false, drawTicks: false },
          border: { display: false }
        },
        y: {
          type: 'linear', min: yRange[0], max: yRange[1],
          afterFit: s => { s.width = yAxisW; s.paddingTop = 0; s.paddingBottom = 0; },
          ticks: { stepSize: 1, autoSkip: false, padding: 11, font: tickFont, color: '#111',
                   callback: v => Number.isInteger(v) ? String(v) : '' },
          grid: { drawTicks: false, lineWidth: 1,
                  color: c => (c.tick && edgeOrMinor(c.tick.value)) ? 'rgba(0,0,0,0)' : '#9a9a9a' },
          border: { display: false, dash: [4, 3] }
        }
      }
    },
    plugins: [decorPlugin]
  });
}

PANELS.forEach(buildPanel);
</script>
</body>
</html>
